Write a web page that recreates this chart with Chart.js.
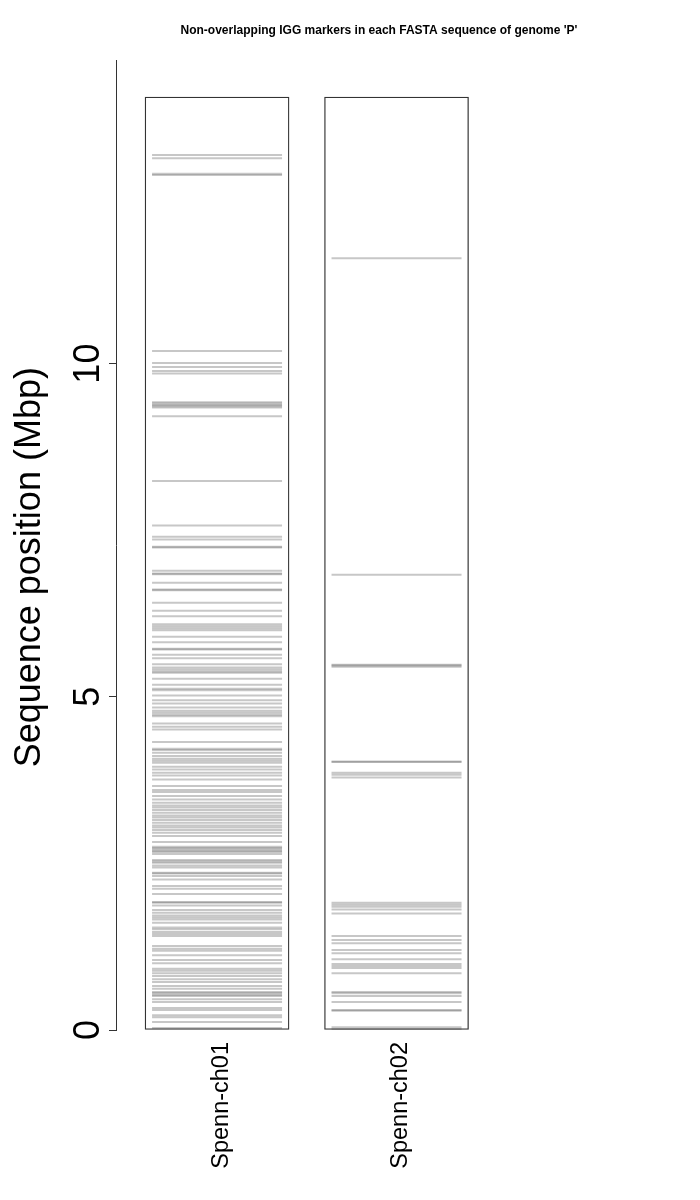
<!DOCTYPE html>
<html><head><meta charset="utf-8">
<script src="https://cdn.jsdelivr.net/npm/chart.js@4.4.1/dist/chart.umd.min.js"></script>
<style>html,body{margin:0;padding:0;background:#fff}#wrap{width:700px;height:1200px;position:relative}</style>
</head><body><div id="wrap"><canvas id="c"></canvas></div>
<script>
const sequences = ['Spenn-ch01', 'Spenn-ch02'];
const sequenceLengths = [14.0, 14.0];
const ch01Markers = [13.13, 13.08, 12.85, 12.83,
  10.19, 10.01, 9.95, 9.89, 9.85, 9.42, 9.40, 9.38, 9.36, 9.34, 9.21, 8.24,
  7.57, 7.40, 7.36, 7.25, 7.24, 6.89, 6.85, 6.84, 6.71, 6.61, 6.60, 6.41, 6.29, 6.21,
  6.09, 6.06, 6.03, 6.00, 5.90, 5.82, 5.72, 5.71, 5.63, 5.58, 5.49, 5.44, 5.41, 5.38, 5.36,
  5.27, 5.18, 5.12, 5.10, 5.02, 4.95, 4.90, 4.84, 4.79, 4.76, 4.73, 4.71, 4.60, 4.55, 4.51,
  4.32, 4.22, 4.20, 4.16, 4.11, 4.07, 4.04, 4.01, 3.95, 3.91, 3.86, 3.82, 3.76, 3.66, 3.60,
  3.57, 3.51, 3.46, 3.41, 3.37, 3.34, 3.30, 3.26, 3.22, 3.19, 3.15, 3.11, 3.07, 3.04, 3.00,
  2.96, 2.91, 2.82, 2.75, 2.73, 2.71, 2.69, 2.67, 2.64, 2.55, 2.53, 2.51, 2.47, 2.44, 2.36,
  2.35, 2.31, 2.26, 2.16, 2.12, 2.04, 1.92, 1.91, 1.87, 1.80, 1.76, 1.72, 1.69, 1.66, 1.61,
  1.54, 1.51, 1.47, 1.44, 1.41, 1.26, 1.22, 1.19, 1.12, 1.05, 1.00, 0.92, 0.89, 0.85, 0.81,
  0.76, 0.72, 0.66, 0.62, 0.57, 0.55, 0.53, 0.51, 0.46, 0.42, 0.33, 0.30, 0.22, 0.19, 0.12, 0.03];
const ch02Markers = [11.58, 6.83, 5.48, 5.47, 5.45, 4.03, 4.02, 3.86, 3.83, 3.79,
  1.91, 1.88, 1.85, 1.81, 1.75, 1.41, 1.35, 1.30, 1.20, 1.15, 1.06, 0.99, 0.96, 0.93, 0.85,
  0.57, 0.55, 0.51, 0.42, 0.30, 0.29, 0.04, 0.01];
const yTickValues = [0, 5, 10];
const chartTitle = "Non-overlapping IGG markers in each FASTA sequence of genome 'P'";
const yTitle = 'Sequence position (Mbp)';

const FONT = '"Liberation Sans", Arial, Helvetica, sans-serif';

const axisText = {
  id: 'axisText',
  afterDraw(chart) {
    const {ctx, chartArea} = chart;
    const y = chart.scales.y;
    ctx.save();
    ctx.fillStyle = '#000';
    ctx.textAlign = 'center';
    ctx.textBaseline = 'alphabetic';
    ctx.font = '36px ' + FONT;
    y.ticks.forEach(t => {
      const py = y.getPixelForValue(t.value);
      ctx.save(); ctx.translate(y.right - 17, py); ctx.rotate(-Math.PI / 2);
      ctx.fillText(String(t.value), 0, 0); ctx.restore();
    });
    ctx.save(); ctx.translate(40, (chartArea.top + chartArea.bottom) / 2 + 22); ctx.rotate(-Math.PI / 2);
    ctx.fillText(yTitle, 0, 0); ctx.restore();
    ctx.restore();
  }
};

const markerStyle = {
  type: 'line', showLine: false, pointStyle: 'line', pointRadius: 65, pointHoverRadius: 65,
  pointBorderColor: 'rgba(70,70,70,0.3)', pointBorderWidth: 2, order: 0
};

new Chart(document.getElementById('c'), {
  type: 'bar',
  data: {
    datasets: [
      {
        type: 'bar',
        data: sequences.map((s, i) => ({x: i + 1, y: [0, sequenceLengths[i]]})),
        backgroundColor: '#ffffff', borderColor: '#333333', borderWidth: 1.3,
        barThickness: 144, borderSkipped: false, order: 1
      },
      Object.assign({data: ch01Markers.map(v => ({x: 1, y: v}))}, markerStyle),
      Object.assign({data: ch02Markers.map(v => ({x: 2, y: v}))}, markerStyle)
    ]
  },
  options: {
    responsive: true, maintainAspectRatio: false, animation: false, events: [],
    layout: {autoPadding: false, padding: {left: 0, right: 58, top: 0, bottom: 0}},
    plugins: {
      legend: {display: false}, tooltip: {enabled: false},
      title: {display: true, text: chartTitle, fullSize: false, color: '#000',
        font: {family: FONT, size: 12, weight: 'bold'}, padding: {top: 23, bottom: 23}}
    },
    scales: {
      x: {
        type: 'linear', min: 0.437, max: 3.3677, offset: false,
        afterBuildTicks: s => { s.ticks = sequences.map((n, i) => ({value: i + 1})); },
        afterFit: s => { s.height = 170; },
        grid: {display: false, drawTicks: false, offset: false}, border: {display: false},
        ticks: {autoSkip: false, minRotation: 90, maxRotation: 90, padding: 12, labelOffset: 4, color: '#000',
          font: {family: FONT, size: 23.5},
          callback: (v) => sequences[Math.round(v) - 1] || ''}
      },
      y: {
        type: 'linear', min: 0, max: 14.55,
        afterBuildTicks: s => { s.ticks = yTickValues.map(v => ({value: v})); },
        afterFit: s => { s.width = 116; },
        grid: {drawOnChartArea: false, drawTicks: true, tickLength: 7, color: '#333'},
        border: {display: true, color: '#333', width: 1},
        ticks: {color: 'rgba(0,0,0,0)', font: {size: 10}}
      }
    }
  },
  plugins: [axisText]
});
</script></body></html>
